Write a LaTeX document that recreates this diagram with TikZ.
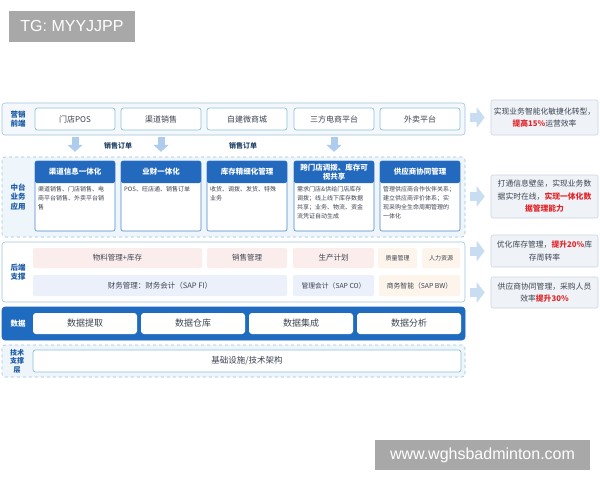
\documentclass[tikz,border=0pt]{standalone}
\usepackage{fontspec}
\setmainfont{Noto Sans CJK SC}
\newfontfamily\markfont{Liberation Sans}
\usepackage{xcolor}
\usetikzlibrary{arrows.meta,positioning}

\definecolor{layeredge}{HTML}{9FC4DB}
\definecolor{layerfill}{HTML}{F4F8FC}
\definecolor{midfill}{HTML}{EEF5FB}
\definecolor{entryedge}{HTML}{8CC3D8}
\definecolor{labelblue}{HTML}{1B5AA6}
\definecolor{headblue}{HTML}{2369BE}
\definecolor{cardedge}{HTML}{4A86CC}
\definecolor{databand}{HTML}{1F6BC0}
\definecolor{arrowblue}{HTML}{AECCEE}
\definecolor{sideblue}{HTML}{C8DCF2}
\definecolor{pinkcell}{HTML}{FCEDED}
\definecolor{lilaccell}{HTML}{EBF0FA}
\definecolor{peachcell}{HTML}{FDF4EC}
\definecolor{resultfill}{HTML}{EFF3F8}
\definecolor{resultedge}{HTML}{CAD5E2}
\definecolor{hired}{HTML}{E0262A}
\definecolor{textgray}{HTML}{3C4450}
\definecolor{ordernavy}{HTML}{24446A}

\begin{document}
\begin{tikzpicture}[x=1pt, y=-1pt,
    every node/.style={inner sep=0pt, font=\fontsize{7}{9}\selectfont},
    layer/.style={draw=layeredge, fill=layerfill, rounded corners=3pt,
                  line width=0.6pt, minimum width=463pt},
    dashlayer/.style={layer, dashed, fill=midfill},
    layername/.style={font=\fontsize{7.5}{9.5}\selectfont\bfseries,
                      text=labelblue, align=center},
    entry/.style={draw=entryedge, fill=white, rounded corners=2.5pt,
                  line width=0.7pt, minimum width=80pt, minimum height=22pt,
                  font=\fontsize{8}{10}\selectfont, text=textgray},
    cardbody/.style={draw=cardedge, fill=white, rounded corners=2pt,
                     line width=0.6pt, minimum width=80pt, minimum height=70pt},
    cardhead/.style={fill=headblue, rounded corners=2pt, minimum width=80pt,
                     minimum height=22pt, text=white, align=center,
                     font=\fontsize{7.5}{9.5}\selectfont\bfseries},
    cardtext/.style={anchor=north west, align=left, text=textgray,
                     font=\fontsize{6}{9}\selectfont},
    cell/.style={rounded corners=2pt, text=textgray,
                 font=\fontsize{7.5}{9}\selectfont},
    datacell/.style={fill=white, rounded corners=3pt, minimum width=104pt,
                     minimum height=21pt, text=textgray,
                     font=\fontsize{9}{11}\selectfont},
    result/.style={draw=resultedge, fill=resultfill, rounded corners=2pt,
                   line width=0.6pt, minimum width=107pt, align=center,
                   text=textgray, font=\fontsize{7.8}{12.5}\selectfont},
    downarr/.style={draw=arrowblue, line width=7pt,
                    -{Triangle[length=7pt, width=15pt]},
                    shorten <=7pt, shorten >=9pt},
    sidearr/.style={draw=sideblue, line width=9pt,
                    -{Triangle[length=8pt, width=20pt]},
                    shorten <=5pt, shorten >=6pt},
    ordlabel/.style={text=ordernavy, font=\fontsize{7}{9}\selectfont\bfseries},
    watermark/.style={fill=black!34, text=white,
                      font=\markfont\fontsize{16}{18}\selectfont},
]

\useasboundingbox (0,0) rectangle (600,480);
\fill[white] (0,0) rectangle (600,480);

% -------- watermarks --------
\node[watermark, minimum width=126pt, minimum height=31pt] (wmtop) at (72,26) {TG: MYYJJPP};
\node[watermark, minimum width=215pt, minimum height=30pt] (wmbot) at (482.5,455) {www.wghsbadminton.com};

% -------- 营销前端 --------
\node[layer, minimum height=32pt] (front) at (233.5,119) {};
\node[layername] (frontname) at (18,119) {营销\\前端};
\foreach \x/\n/\lbl in {75/1/门店POS, 161/2/渠道销售, 247/3/自建微商城,
                        334/4/三方电商平台, 420/5/外卖平台}{
  \node[entry] (ch\n) at (\x,119) {\lbl};
}

% -------- 中台业务应用 --------
\node[dashlayer, minimum height=80pt] (mid) at (233.5,197) {};
\node[layername] (midname) at (18,197) {中台\\业务\\应用};
\foreach \x/\n/\head/\body in {
    75/1/{渠道信息一体化}/{渠道销售、门店销售、电\\商平台销售、外卖平台销\\售},
    161/2/{业财一体化}/{POS、旺店通、销售订单},
    247/3/{库存精细化管理}/{收货、调拨、发货、特殊\\业务},
    334/4/{跨门店调拨、库存可\\视共享}/{需求门店\&供给门店库存\\调拨；线上线下库存数据\\共享；业务、物流、资金\\流凭证自动生成},
    420/5/{供应商协同管理}/{管理供应商合作伙伴关系；\\建立供应商评价体系；实\\现采购全生命周期管理的\\一体化}}{
  \node[cardbody] (b\n) at (\x,196) {};
  \node[cardhead] (h\n) at (\x,172) {\head};
  \node[cardtext] (t\n) at (\x-37,186) {\body};
}

% order flow arrows
\draw[downarr] (ch1) -- (h1);
\draw[downarr] (ch2) -- (h2);
\draw[downarr] (ch4) -- (h4);
\node[ordlabel] (ord1) at (118,146) {销售订单};
\node[ordlabel] (ord2) at (243,146) {销售订单};

% -------- 后端支撑 --------
\node[layer, fill=white, minimum height=60pt] (back) at (233.5,272) {};
\node[layername] (backname) at (18,272) {后端\\支撑};
\node[cell, fill=pinkcell, minimum width=169pt, minimum height=20pt] (mat) at (117.5,258) {物料管理+库存};
\node[cell, fill=pinkcell, minimum width=80pt, minimum height=20pt] (sales) at (247,258) {销售管理};
\node[cell, fill=pinkcell, minimum width=81pt, minimum height=20pt] (prod) at (333.5,258) {生产计划};
\node[cell, fill=peachcell, minimum width=39pt, minimum height=20pt,
      font=\fontsize{6}{7}\selectfont] (qual) at (397.5,258) {质量管理};
\node[cell, fill=peachcell, minimum width=38pt, minimum height=20pt,
      font=\fontsize{6}{7}\selectfont] (hr) at (441,258) {人力资源};
\node[cell, fill=lilaccell, minimum width=254pt, minimum height=21pt] (fi) at (160,285.5) {财务管理：财务会计（SAP FI）};
\node[cell, fill=lilaccell, minimum width=81pt, minimum height=21pt,
      font=\fontsize{6.8}{8}\selectfont] (co) at (333.5,285.5) {管理会计（SAP CO）};
\node[cell, fill=peachcell, minimum width=81pt, minimum height=21pt,
      font=\fontsize{6.8}{8}\selectfont] (bw) at (419.5,285.5) {商务智能（SAP BW）};

% -------- 数据 --------
\node[layer, draw=databand, fill=databand, minimum height=33pt] (data) at (233.5,323.5) {};
\node[layername, text=white] (dataname) at (18,323.5) {数据};
\foreach \x/\n/\lbl in {85/1/数据提取, 193/2/数据仓库, 301/3/数据集成, 409/4/数据分析}{
  \node[datacell] (d\n) at (\x,323.5) {\lbl};
}

% -------- 技术支撑层 --------
\node[dashlayer, minimum height=32pt] (tech) at (233.5,361) {};
\node[layername, font=\fontsize{7}{8.5}\selectfont\bfseries] (techname) at (17,361) {技术\\支撑\\层};
\node[entry, minimum width=428pt, font=\fontsize{8.5}{10}\selectfont] (infra) at (247,361) {基础设施/技术架构};

% -------- results --------
\node[result, minimum height=35pt] (res1) at (544.5,117.5)
  {实现业务智能化敏捷化转型，\\{\color{hired}\bfseries 提高15\%}运营效率};
\node[result, minimum height=43pt] (res2) at (544.5,196.5)
  {打通信息壁垒，实现业务数\\据实时在线，{\color{hired}\bfseries 实现一体化数}\\{\color{hired}\bfseries 据管理能力}};
\node[result, minimum height=32pt] (res3) at (544.5,251)
  {优化库存管理，{\color{hired}\bfseries 提升20\%}库\\存周转率};
\node[result, minimum height=31pt] (res4) at (544.5,292.5)
  {供应商协同管理，采购人员\\效率{\color{hired}\bfseries 提升30\%}};

\draw[sidearr] (front.east |- res1) -- (res1.west);
\draw[sidearr] (mid.east |- res2) -- (res2.west);
\draw[sidearr] (back.east |- res3) -- (res3.west);
\draw[sidearr] (back.east |- res4) -- (res4.west);

\end{tikzpicture}
\end{document}
